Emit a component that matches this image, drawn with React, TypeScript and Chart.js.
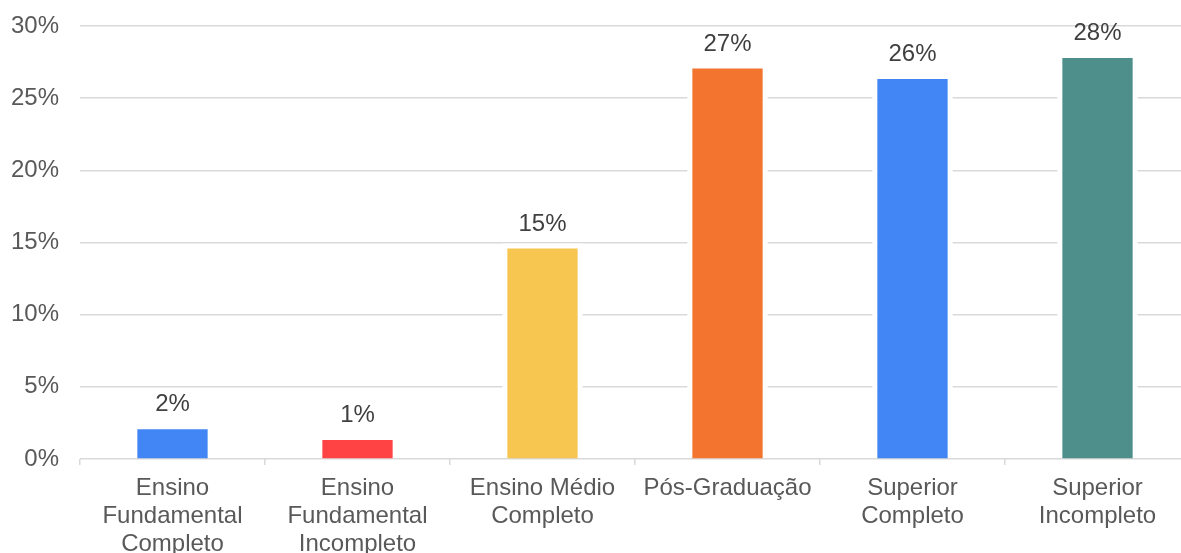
import React, { useEffect, useRef } from "react";
import { Chart, registerables } from "chart.js";

Chart.register(...registerables);

const categories: string[][] = [
  ["Ensino", "Fundamental", "Completo"],
  ["Ensino", "Fundamental", "Incompleto"],
  ["Ensino Médio", "Completo"],
  ["Pós-Graduação"],
  ["Superior", "Completo"],
  ["Superior", "Incompleto"],
];
const values: number[] = [2.06, 1.32, 14.58, 27.05, 26.32, 27.78];
const barColors: string[] = ["#4285F4", "#FF4345", "#F7C651", "#F3742E", "#4285F4", "#4E8F8C"];
const yTicks: number[] = [0, 5, 10, 15, 20, 25, 30];

const FONT = '"Liberation Sans", Arial, sans-serif';

const barGapPlugin = {
  id: "barGap",
  beforeDatasetsDraw(chart: any) {
    const ctx = chart.ctx;
    const meta = chart.getDatasetMeta(0);
    ctx.save();
    ctx.fillStyle = "#ffffff";
    meta.data.forEach((bar: any) => {
      const p = bar.getProps(["x", "y", "base", "width"], true);
      ctx.fillRect(p.x - p.width / 2 - 5, p.y - 5, p.width + 10, p.base - 1.5 - (p.y - 5));
    });
    ctx.restore();
  },
};

const valueLabelPlugin = {
  id: "valueLabels",
  afterDatasetsDraw(chart: any) {
    const ctx = chart.ctx;
    const meta = chart.getDatasetMeta(0);
    ctx.save();
    ctx.font = `24px ${FONT}`;
    ctx.fillStyle = "#404040";
    ctx.textAlign = "center";
    ctx.textBaseline = "alphabetic";
    meta.data.forEach((bar: any, i: number) => {
      const p = bar.getProps(["x", "y"], true);
      ctx.fillText(Math.round(values[i]) + "%", p.x, p.y - 18);
    });
    ctx.restore();
  },
};

export default function App() {
  const ref = useRef<HTMLCanvasElement | null>(null);

  useEffect(() => {
    if (!ref.current) return;
    const chart = new Chart(ref.current, {
      type: "bar",
      data: {
        labels: categories,
        datasets: [
          {
            data: values,
            backgroundColor: barColors,
            borderWidth: 0,
            barPercentage: 0.38,
            categoryPercentage: 1,
          },
        ],
      },
      options: {
        animation: false,
        responsive: false,
        devicePixelRatio: 1,
        layout: { padding: { left: 0, right: 10, top: 26, bottom: 0 } },
        plugins: {
          legend: { display: false },
          tooltip: { enabled: false },
        },
        scales: {
          x: {
            grid: {
              display: true,
              drawOnChartArea: false,
              drawTicks: true,
              tickLength: 6,
              color: "#d9d9d9",
              lineWidth: 1.5,
              offset: true,
            },
            border: { display: false },
            ticks: {
              color: "#595959",
              font: { family: FONT, size: 24, lineHeight: 1.15 },
              padding: 10,
              maxRotation: 0,
              minRotation: 0,
              autoSkip: false,
            },
            afterFit: (scale: any) => {
              scale.height = 141;
              scale.paddingLeft = 0;
              scale.paddingRight = 0;
            },
          },
          y: {
            min: 0,
            max: 30,
            afterBuildTicks: (scale: any) => {
              scale.ticks = yTicks.map((v) => ({ value: v }));
            },
            grid: {
              color: "#d9d9d9",
              lineWidth: 1.5,
              drawTicks: false,
            },
            border: { display: false },
            ticks: {
              color: "#595959",
              font: { family: FONT, size: 24 },
              padding: 21,
              callback: (v: any) => v + "%",
            },
            afterFit: (scale: any) => {
              scale.width = 80;
              scale.paddingTop = 0;
              scale.paddingBottom = 0;
            },
          },
        },
      },
      plugins: [barGapPlugin, valueLabelPlugin],
    });
    return () => chart.destroy();
  }, []);

  return (
    <div
      style={{
        position: "fixed",
        left: 0,
        top: 0,
        width: 1181,
        height: 553,
        overflow: "hidden",
        background: "#ffffff",
      }}
    >
      <canvas ref={ref} width={1200} height={600} style={{ display: "block" }} />
    </div>
  );
}
